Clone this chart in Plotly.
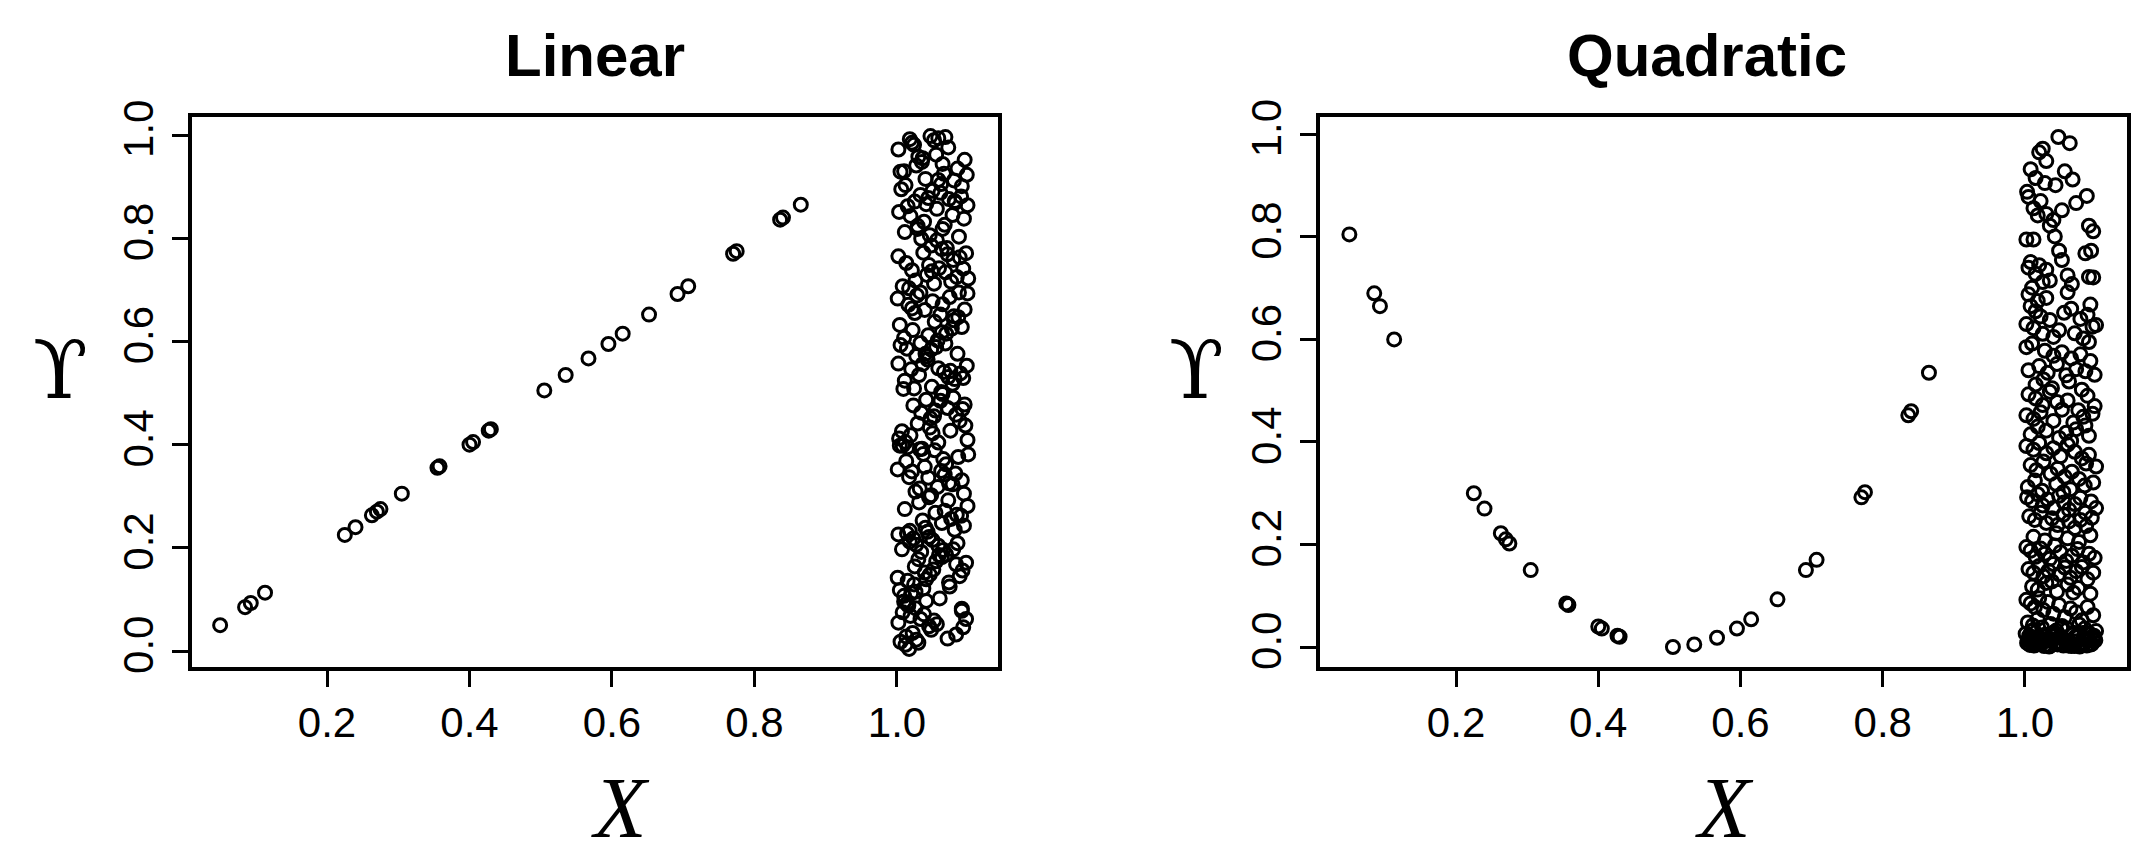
import plotly.graph_objects as go

# ---------------- data ----------------
# points on the signal curve (same x used in both panels)
sig_x = [0.050, 0.085, 0.093, 0.113, 0.225, 0.240, 0.263, 0.270, 0.275, 0.305,
         0.355, 0.358, 0.400, 0.405, 0.427, 0.430, 0.505, 0.535, 0.567, 0.595,
         0.615, 0.652, 0.692, 0.707, 0.770, 0.775, 0.836, 0.840, 0.865]
lin_sig_y = [0.050, 0.085, 0.093, 0.113, 0.225, 0.240, 0.263, 0.270, 0.275, 0.305,
             0.355, 0.358, 0.400, 0.405, 0.427, 0.430, 0.505, 0.535, 0.567, 0.595,
             0.615, 0.652, 0.692, 0.707, 0.770, 0.775, 0.836, 0.840, 0.865]
quad_sig_y = [0.805, 0.690, 0.665, 0.600, 0.300, 0.270, 0.222, 0.210, 0.202, 0.150,
              0.085, 0.082, 0.040, 0.036, 0.022, 0.020, 0.000, 0.005, 0.018, 0.036,
              0.054, 0.093, 0.150, 0.170, 0.292, 0.302, 0.452, 0.460, 0.535]

# noise cluster, Linear panel
lin_noise_x = [
    1.002,1.018,1.021,1.024,1.030,1.047,1.052,1.058,1.068,1.072,1.010,1.035,1.085,1.095,1.098,1.012,1.040,1.062,1.080,1.005,1.027,1.055,1.091,1.066,
    1.006,1.015,1.025,1.033,1.044,1.050,1.061,1.073,1.082,1.090,1.099,1.003,1.019,1.038,1.056,1.067,1.078,1.094,1.011,1.029,1.046,1.064,1.087,1.041,
    1.002,1.013,1.021,1.037,1.048,1.056,1.063,1.071,1.079,1.088,1.097,1.008,1.026,1.042,1.052,1.068,1.084,1.093,1.017,1.033,1.059,1.076,1.100,1.045,
    1.004,1.016,1.028,1.039,1.050,1.061,1.074,1.086,1.095,1.010,1.022,1.044,1.057,1.069,1.080,1.091,1.001,1.033,1.048,1.064,1.077,1.099,1.025,1.053,
    1.005,1.014,1.027,1.036,1.043,1.058,1.066,1.072,1.081,1.089,1.098,1.011,1.020,1.031,1.049,1.062,1.078,1.093,1.002,1.024,1.040,1.055,1.085,1.068,
    1.003,1.012,1.023,1.034,1.041,1.052,1.064,1.071,1.083,1.092,1.007,1.019,1.029,1.046,1.058,1.075,1.088,1.099,1.015,1.037,1.061,1.079,1.095,1.050,
    1.001,1.013,1.021,1.032,1.044,1.053,1.065,1.073,1.082,1.091,1.100,1.008,1.026,1.039,1.057,1.069,1.086,1.017,1.048,1.062,1.078,1.094,1.035,1.004,
    1.002,1.011,1.018,1.027,1.036,1.045,1.054,1.063,1.072,1.081,1.090,1.099,1.007,1.023,1.040,1.058,1.076,1.094,1.014,1.031,1.050,1.067,1.085,1.043,
    1.004,1.015,1.025,1.034,1.046,1.055,1.063,1.074,1.083,1.092,1.010,1.020,1.030,1.041,1.060,1.079,1.097,1.001,1.037,1.051,1.069,1.088,1.024,1.065,
    1.002,1.008,1.014,1.019,1.026,1.033,1.041,1.048,1.056,1.071,1.083,1.091,1.097,1.005,1.012,1.022,1.030,1.045,1.093,1.010,1.017,1.027,1.038,1.016,
    1.036,1.058,1.081,1.029,1.070,1.049,1.087,1.021,1.063,1.042,1.075,1.009,1.054,1.096,1.032,1.067,1.045,1.084,1.018,1.059,
    1.039,1.073,1.026,1.091,1.052,1.013,1.064,1.034,1.080,1.047,
]
lin_noise_y = [
    0.972,0.992,0.985,0.981,0.958,0.998,0.990,0.994,0.996,0.976,0.930,0.948,0.935,0.952,0.923,0.903,0.915,0.905,0.912,0.929,0.941,0.962,0.901,0.925,
    0.895,0.862,0.871,0.884,0.878,0.892,0.888,0.876,0.869,0.881,0.864,0.851,0.843,0.832,0.857,0.826,0.845,0.838,0.812,0.824,0.806,0.818,0.803,0.866,
    0.765,0.752,0.738,0.772,0.786,0.796,0.779,0.769,0.758,0.763,0.771,0.707,0.718,0.729,0.712,0.734,0.725,0.741,0.703,0.695,0.742,0.716,0.722,0.748,
    0.632,0.671,0.689,0.661,0.678,0.652,0.686,0.647,0.662,0.607,0.622,0.612,0.602,0.615,0.641,0.628,0.683,0.597,0.584,0.672,0.625,0.693,0.655,0.638,
    0.593,0.586,0.572,0.556,0.565,0.548,0.541,0.531,0.527,0.538,0.553,0.524,0.546,0.535,0.512,0.502,0.518,0.529,0.557,0.509,0.576,0.589,0.576,0.596,
    0.412,0.405,0.476,0.462,0.487,0.455,0.498,0.471,0.458,0.469,0.426,0.418,0.441,0.433,0.404,0.427,0.446,0.409,0.395,0.382,0.485,0.491,0.478,0.422,
    0.352,0.368,0.348,0.315,0.336,0.389,0.372,0.325,0.344,0.331,0.381,0.398,0.309,0.357,0.318,0.362,0.376,0.337,0.302,0.349,0.323,0.305,0.392,0.398,
    0.226,0.275,0.212,0.206,0.253,0.221,0.268,0.248,0.292,0.235,0.262,0.281,0.197,0.218,0.239,0.204,0.256,0.243,0.228,0.288,0.215,0.272,0.209,0.231,
    0.118,0.136,0.164,0.192,0.148,0.174,0.182,0.125,0.168,0.156,0.107,0.112,0.178,0.139,0.102,0.197,0.171,0.142,0.121,0.158,0.187,0.145,0.129,0.196,
    0.055,0.075,0.092,0.068,0.083,0.062,0.097,0.041,0.052,0.024,0.032,0.078,0.062,0.018,0.012,0.035,0.016,0.048,0.046,0.096,0.004,0.022,0.071,0.088,
    0.955,0.913,0.872,0.818,0.781,0.736,0.695,0.664,0.618,0.571,0.543,0.508,0.466,0.437,0.391,0.342,0.298,0.264,0.233,0.186,
    0.152,0.133,0.115,0.082,0.059,0.028,0.944,0.799,0.649,0.451,
]

# noise cluster, Quadratic panel
quad_noise_x = [
    1.047,1.063,1.025,1.020,1.030,1.008,1.056,1.067,1.043,1.003,1.087,1.028,1.015,
    1.005,1.012,1.030,1.040,1.035,1.090,1.096,1.022,1.052,1.018,1.072,1.042,
    1.002,1.012,1.008,1.048,1.052,1.085,1.093,1.090,1.096,1.020,1.030,1.015,1.025,1.010,1.005,1.035,1.060,1.066,
    1.005,1.018,1.030,1.055,1.065,1.078,1.088,1.100,1.002,1.012,1.025,1.040,1.048,1.070,1.082,1.095,1.008,1.022,1.035,1.060,1.092,1.015,
    1.002,1.010,1.028,1.040,1.052,1.065,1.078,1.092,1.005,1.020,1.032,1.045,1.058,1.072,1.085,1.098,1.015,1.038,1.062,1.080,1.026,1.090,
    1.005,1.015,1.025,1.035,1.045,1.060,1.075,1.088,1.098,1.002,1.012,1.022,1.040,1.052,1.068,1.082,1.095,1.008,1.030,1.048,1.058,1.072,1.090,1.018,1.065,1.085,
    1.002,1.012,1.020,1.030,1.040,1.050,1.060,1.070,1.080,1.090,1.100,1.008,1.016,1.026,1.036,1.046,1.056,1.066,1.076,1.086,1.096,1.004,1.024,1.044,1.064,1.084,1.014,1.054,
    1.003,1.010,1.018,1.025,1.032,1.040,1.048,1.055,1.062,1.070,1.078,1.085,1.093,1.100,1.006,1.014,1.022,1.030,1.038,1.046,1.054,1.062,1.070,1.078,1.086,1.094,1.012,1.028,1.044,1.060,1.076,1.092,
    1.002,1.008,1.015,1.022,1.028,1.035,1.042,1.050,1.058,1.066,1.074,1.082,1.090,1.098,1.005,1.012,1.020,1.026,1.033,1.040,1.048,1.056,1.064,1.072,1.080,1.088,1.096,1.010,1.018,1.030,1.045,1.060,1.075,1.092,1.038,1.068,
    1.002,1.008,1.014,1.020,1.026,1.032,1.040,1.048,1.056,1.064,1.072,1.080,1.088,1.096,1.004,1.011,1.018,1.024,1.036,1.044,1.052,1.060,1.068,1.076,1.084,1.092,1.100,1.006,1.015,1.028,
    1.038,1.050,1.062,1.074,1.086,1.098,1.003,1.010,1.017,1.022,1.030,1.042,1.054,1.058,1.066,1.070,1.078,1.082,1.090,1.094,1.005,1.013,1.025,1.034,1.046,1.057,1.065,1.079,1.087,1.099,
    1.001,1.007,1.012,1.019,1.023,1.029,1.035,1.041,1.046,1.053,1.061,1.067,1.073,1.077,1.083,1.089,1.093,1.097,1.004,1.009,1.016,1.021,1.027,1.033,1.039,1.044,1.051,1.063,1.071,1.085,
]
quad_noise_y = [
    0.995,0.983,0.972,0.965,0.948,0.932,0.928,0.912,0.901,0.888,0.880,0.905,0.915,
    0.878,0.856,0.845,0.833,0.822,0.822,0.811,0.870,0.852,0.842,0.866,0.801,
    0.795,0.795,0.751,0.773,0.755,0.768,0.773,0.722,0.721,0.745,0.736,0.728,0.712,0.701,0.740,0.715,0.725,0.708,
    0.688,0.675,0.681,0.652,0.660,0.640,0.648,0.628,0.630,0.622,0.611,0.605,0.618,0.612,0.602,0.625,0.665,0.645,0.638,0.692,0.668,0.655,
    0.585,0.592,0.578,0.568,0.575,0.563,0.571,0.558,0.540,0.548,0.535,0.552,0.530,0.542,0.538,0.531,0.512,0.505,0.518,0.502,0.522,0.595,
    0.493,0.485,0.472,0.498,0.478,0.481,0.462,0.490,0.470,0.452,0.445,0.458,0.441,0.463,0.438,0.449,0.455,0.415,0.422,0.408,0.418,0.425,0.412,0.430,0.402,0.432,
    0.392,0.385,0.398,0.378,0.388,0.372,0.395,0.381,0.368,0.375,0.352,0.355,0.345,0.362,0.338,0.348,0.332,0.342,0.328,0.358,0.321,0.312,0.305,0.318,0.308,0.315,0.325,0.302,
    0.292,0.285,0.298,0.276,0.288,0.271,0.295,0.282,0.268,0.279,0.291,0.262,0.284,0.271,0.255,0.248,0.262,0.242,0.251,0.238,0.258,0.245,0.232,0.248,0.236,0.252,0.215,0.208,0.222,0.212,0.205,0.218,
    0.195,0.188,0.176,0.192,0.182,0.172,0.198,0.185,0.168,0.178,0.191,0.165,0.182,0.174,0.152,0.145,0.158,0.138,0.149,0.162,0.142,0.155,0.135,0.148,0.156,0.132,0.145,0.118,0.112,0.125,0.108,0.122,0.115,0.104,0.128,0.106,
    0.092,0.085,0.078,0.095,0.072,0.088,0.065,0.082,0.058,0.075,0.068,0.052,0.078,0.062,0.048,0.042,0.055,0.038,0.045,0.032,0.041,0.035,0.028,0.044,0.036,0.025,0.031,0.022,0.018,0.024,
    0.015,0.021,0.012,0.019,0.014,0.017,0.008,0.011,0.005,0.009,0.004,0.007,0.003,0.010,0.006,0.002,0.008,0.004,0.012,0.006,0.015,0.003,0.009,0.001,0.005,0.011,0.002,0.007,0.003,0.013,
    0.026,0.004,0.033,0.012,0.006,0.021,0.002,0.029,0.009,0.016,0.003,0.024,0.011,0.001,0.019,0.027,0.005,0.022,0.013,0.031,0.007,0.018,0.002,0.014,0.025,0.006,0.037,0.010,0.020,0.028,
]

x_ticks = [0.2, 0.4, 0.6, 0.8, 1.0]
x_ticklabels = ["0.2", "0.4", "0.6", "0.8", "1.0"]
y_ticks = [0.0, 0.2, 0.4, 0.6, 0.8, 1.0]
y_ticklabels = ["0.0", "0.2", "0.4", "0.6", "0.8", "1.0"]
panel_titles = ["Linear", "Quadratic"]

assert len(lin_noise_x) == len(lin_noise_y), (len(lin_noise_x), len(lin_noise_y))
assert len(quad_noise_x) == len(quad_noise_y), (len(quad_noise_x), len(quad_noise_y))

# ---------------- figure ----------------
W, H = 2155, 862
OFF = 8  # page body margin of the browser


def px(x):
    return (x - OFF) / W


def py(y):
    return 1 - (y - OFF) / H


marker = dict(symbol="circle-open", size=13, color="black", line=dict(width=3, color="black"))

fig = go.Figure()
fig.add_trace(go.Scatter(x=sig_x + lin_noise_x, y=lin_sig_y + lin_noise_y, mode="markers",
                         marker=marker, xaxis="x", yaxis="y", hoverinfo="skip"))
fig.add_trace(go.Scatter(x=sig_x + quad_noise_x, y=quad_sig_y + quad_noise_y, mode="markers",
                         marker=marker, xaxis="x2", yaxis="y2", hoverinfo="skip"))

tickfont = dict(family="Liberation Sans, Arial, sans-serif", size=42, color="black")
common_x = dict(tickvals=x_ticks, ticktext=x_ticklabels, ticks="outside", ticklen=16, tickwidth=3,
                tickcolor="black", showline=True, linewidth=4, linecolor="black", mirror=True,
                showgrid=False, zeroline=False, tickfont=tickfont, ticklabelstandoff=0,
                automargin=False)
common_y = dict(tickvals=y_ticks, ticktext=y_ticklabels, ticks="outside", ticklen=16, tickwidth=3,
                tickcolor="black", showline=True, linewidth=4, linecolor="black", mirror=True,
                showgrid=False, zeroline=False, tickfont=tickfont, tickangle=-90, ticklabelstandoff=2,
                automargin=False)

ydom = [py(667), py(117)]
fig.update_layout(
    width=W, height=H,
    margin=dict(l=0, r=0, t=0, b=0, pad=0),
    paper_bgcolor="white", plot_bgcolor="white",
    showlegend=False,
    xaxis=dict(domain=[px(192), px(998)], range=[0.0105, 1.1418], anchor="y", **common_x),
    yaxis=dict(domain=ydom, range=[-0.031, 1.035], anchor="x", **common_y),
    xaxis2=dict(domain=[px(1320), px(2127)], range=[0.0087, 1.1435], anchor="y2", **common_x),
    yaxis2=dict(domain=ydom, range=[-0.039, 1.034], anchor="x2", **common_y),
)

title_font = dict(family="Liberation Sans, Arial, sans-serif", size=60, color="black")
label_font = dict(family="DejaVu Serif, Liberation Serif, serif", size=80, color="black")
xlab_font = dict(family="Liberation Serif, Times New Roman, serif", size=86, color="black")
annots = [
    dict(text="<b>" + panel_titles[0] + "</b>", x=px(595), y=py(55), font=title_font),
    dict(text="<b>" + panel_titles[1] + "</b>", x=px(1707), y=py(55), font=title_font),
    dict(text="<i>X</i>", x=px(620), y=py(808), font=xlab_font),
    dict(text="<i>X</i>", x=px(1724), y=py(808), font=xlab_font),
    dict(text="ϒ", x=px(60), y=py(370), font=label_font),
    dict(text="ϒ", x=px(1196), y=py(370), font=label_font),
]
for a in annots:
    fig.add_annotation(xref="paper", yref="paper", showarrow=False,
                       xanchor="center", yanchor="middle", **a)

fig.write_html("out.html")
